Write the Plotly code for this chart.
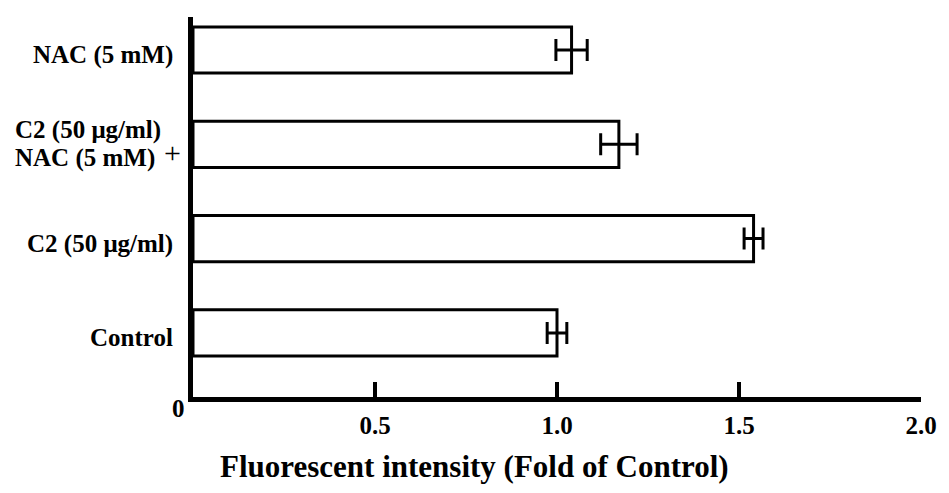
import plotly.graph_objects as go

# Treatment groups, bottom to top
groups = ["Control", "C2 (50 μg/ml)", "C2 (50 μg/ml) + NAC (5 mM)", "NAC (5 mM)"]
fold_change = [1.00, 1.54, 1.17, 1.04]
fold_error = [0.027, 0.026, 0.05, 0.043]

x_ticks = [0.5, 1.0, 1.5, 2.0]
x_tick_text = ["0.5", "1.0", "1.5", "2.0"]

FONT = "Liberation Serif"
positions = list(range(len(groups)))

fig = go.Figure()
fig.add_trace(go.Bar(
    y=positions,
    x=fold_change,
    orientation="h",
    width=0.49,
    marker=dict(color="white", line=dict(color="black", width=3)),
    error_x=dict(type="data", array=fold_error, visible=True,
                 color="black", thickness=3, width=11),
    showlegend=False,
))

fig.update_layout(
    width=949, height=493,
    margin=dict(l=193, r=22, t=17, b=96),
    plot_bgcolor="white", paper_bgcolor="white",
    font=dict(family=FONT, color="black", size=25),
    xaxis=dict(
        range=[0, 2.0], showgrid=False, zeroline=False,
        showline=True, linewidth=5, linecolor="black",
        ticks="inside", ticklen=15, tickwidth=4, tickcolor="black",
        tickvals=x_ticks, ticktext=x_tick_text,
        tickfont=dict(family=FONT, size=25, weight="bold"),
        ticklabelstandoff=2,
    ),
    yaxis=dict(
        range=[-0.68, 3.35], showgrid=False, zeroline=False,
        showline=True, linewidth=5, linecolor="black",
        showticklabels=False, ticks="",
    ),
)

bold = dict(family=FONT, size=25, color="black", weight="bold")

# single-line group labels, right aligned beside the axis
for pos, name in zip(positions, groups):
    if "+" in name:
        continue
    fig.add_annotation(
        x=-0.0245, xref="paper", y=pos, yref="y", yshift=-5,
        text=name, showarrow=False, xanchor="right", yanchor="middle",
        font=bold,
    )

# combined treatment label: two lines with a plus sign to the right
combo = positions[2]
first, second = groups[2].split(" + ")
fig.add_annotation(x=-0.247, xref="paper", y=combo, yref="y", yshift=14,
                   text=first, showarrow=False, xanchor="left",
                   yanchor="middle", font=bold)
fig.add_annotation(x=-0.247, xref="paper", y=combo, yref="y", yshift=-14,
                   text=second, showarrow=False, xanchor="left",
                   yanchor="middle", font=bold)
fig.add_annotation(x=-0.0136, xref="paper", y=combo, yref="y", yshift=-8,
                   text="+", showarrow=False, xanchor="right",
                   yanchor="middle", font=dict(family=FONT, size=30, color="black"))

# origin label
fig.add_annotation(x=-0.0204, xref="paper", y=-0.03, yref="paper",
                   text="0", showarrow=False, xanchor="center",
                   yanchor="middle", font=bold)

# axis title
fig.add_annotation(x=0.387, xref="paper", y=-0.183, yref="paper",
                   text="Fluorescent intensity (Fold of Control)",
                   showarrow=False, xanchor="center", yanchor="middle",
                   font=dict(family=FONT, size=31, color="black", weight="bold"))

fig.write_html("out.html")
